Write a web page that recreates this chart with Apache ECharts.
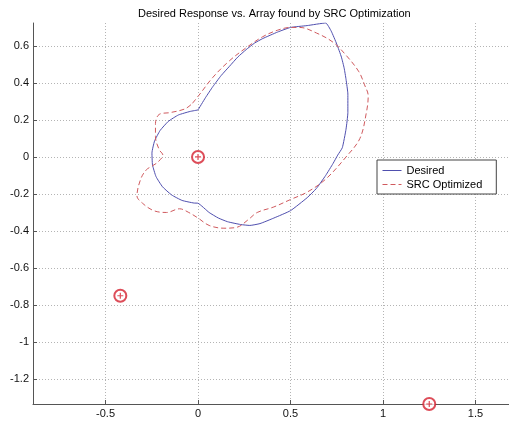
<!DOCTYPE html>
<html>
<head>
<meta charset="utf-8">
<script src="https://cdn.jsdelivr.net/npm/echarts@6/dist/echarts.min.js"></script>
<style>html,body{margin:0;padding:0;background:#fff}#c{width:509px;height:421px}</style>
</head>
<body>
<div id="c"></div>
<script>
var titleText = 'Desired Response vs. Array found by SRC Optimization';
var seriesNames = ['Desired', 'SRC Optimized'];
var xTicks = [-0.5, 0, 0.5, 1, 1.5];
var yTicks = [-1.2, -1, -0.8, -0.6, -0.4, -0.2, 0, 0.2, 0.4, 0.6];
var xRange = [-0.892, 1.681];
var yRange = [-1.335, 0.724];

var desiredX = [0, 0.04, 0.08, 0.125, 0.17, 0.215, 0.26, 0.305, 0.35, 0.43, 0.50, 0.59, 0.69, 0.72, 0.75, 0.775, 0.79, 0.80, 0.81, 0.81, 0.80, 0.78, 0.755, 0.73, 0.69, 0.64, 0.59, 0.50, 0.41, 0.335, 0.28, 0.23, 0.16, 0.11, 0.06, 0, -0.022, -0.086, -0.143, -0.192, -0.227, -0.246, -0.249, -0.235, -0.205, -0.161, -0.106, -0.043, 0];
var desiredY = [0.254, 0.32, 0.38, 0.44, 0.49, 0.54, 0.58, 0.615, 0.64, 0.675, 0.70, 0.71, 0.724, 0.68, 0.61, 0.54, 0.48, 0.42, 0.34, 0.24, 0.15, 0.05, 0.01, -0.035, -0.10, -0.17, -0.22, -0.29, -0.33, -0.36, -0.37, -0.365, -0.35, -0.33, -0.30, -0.25, -0.249, -0.235, -0.205, -0.161, -0.106, -0.043, 0.022, 0.086, 0.143, 0.192, 0.227, 0.246, 0.254];

var srcX = [-0.03, 0.01, 0.08, 0.17, 0.26, 0.35, 0.43, 0.50, 0.55, 0.64, 0.73, 0.80, 0.87, 0.90, 0.92, 0.91, 0.875, 0.80, 0.69, 0.59, 0.50, 0.41, 0.32, 0.27, 0.21, 0.14, 0.06, 0, -0.05, -0.10, -0.17, -0.24, -0.30, -0.33, -0.31, -0.28, -0.25, -0.22, -0.19, -0.21, -0.23, -0.23, -0.21, -0.15, -0.07, -0.03];
var srcY = [0.29, 0.34, 0.43, 0.52, 0.59, 0.65, 0.685, 0.70, 0.70, 0.67, 0.62, 0.55, 0.46, 0.39, 0.33, 0.24, 0.10, 0.0, -0.12, -0.19, -0.23, -0.27, -0.30, -0.34, -0.38, -0.385, -0.37, -0.33, -0.30, -0.28, -0.30, -0.29, -0.25, -0.21, -0.12, -0.07, -0.05, -0.03, 0.01, 0.04, 0.11, 0.18, 0.23, 0.24, 0.26, 0.29];

var elemX = [0, -0.42, 1.25];
var elemY = [0, -0.75, -1.335];

function zip(a, b) { return a.map(function (v, i) { return [v, b[i]]; }); }

var chart = echarts.init(document.getElementById('c'));
var font = 'Liberation Sans, Arial, sans-serif';
var gridLine = { show: true, lineStyle: { color: '#b4b4b4', type: [1, 2], width: 1 } };
var red = '#d42030';
chart.setOption({
  animation: false,
  backgroundColor: '#fff',
  title: { text: titleText, left: 133, top: 3, textStyle: { fontSize: 11, fontWeight: 'normal', color: '#000', fontFamily: font } },
  legend: {
    orient: 'vertical', left: 377, top: 160, backgroundColor: '#fff', borderColor: '#444', borderWidth: 1,
    padding: [5, 14, 4, 5], itemGap: 3, itemWidth: 19, itemHeight: 10,
    itemStyle: { opacity: 0 },
    lineStyle: { width: 1 },
    textStyle: { fontSize: 11, color: '#000', fontFamily: font },
    data: seriesNames
  },
  grid: { left: 33, right: 0, top: 23, bottom: 17, containLabel: false },
  xAxis: {
    type: 'value', min: xRange[0], max: xRange[1],
    axisLine: { show: true, onZero: false, lineStyle: { color: '#555' } },
    axisTick: { show: true, inside: true, length: 4, customValues: xTicks, lineStyle: { color: '#555' } },
    axisLabel: { customValues: xTicks, fontSize: 11, color: '#111', fontFamily: font, margin: 4 },
    splitLine: gridLine
  },
  yAxis: {
    type: 'value', min: yRange[0], max: yRange[1],
    axisLine: { show: true, onZero: false, lineStyle: { color: '#555' } },
    axisTick: { show: true, inside: true, length: 4, customValues: yTicks, lineStyle: { color: '#555' } },
    axisLabel: { customValues: yTicks, fontSize: 11, color: '#111', fontFamily: font, margin: 4 },
    splitLine: gridLine
  },
  series: [
    { name: seriesNames[0], type: 'line', data: zip(desiredX, desiredY), symbol: 'none', smooth: 0.15,
      lineStyle: { color: '#4f4fae', width: 1 }, itemStyle: { color: '#4f4fae' } },
    { name: seriesNames[1], type: 'line', data: zip(srcX, srcY), symbol: 'none', smooth: 0.35,
      lineStyle: { color: '#d05a5e', width: 1, type: [5, 3] }, itemStyle: { color: '#d05a5e' } },
    { type: 'scatter', data: zip(elemX, elemY), symbol: 'emptyCircle', symbolSize: 12, clip: false,
      itemStyle: { color: red, borderColor: red, borderWidth: 2 }, z: 5 },
    { type: 'scatter', data: zip(elemX, elemY), symbol: 'path://M4,0L6,0L6,4L10,4L10,6L6,6L6,10L4,10L4,6L0,6L0,4L4,4Z', symbolSize: 6, clip: false,
      itemStyle: { color: red }, z: 6 }
  ]
});
</script>
</body>
</html>
